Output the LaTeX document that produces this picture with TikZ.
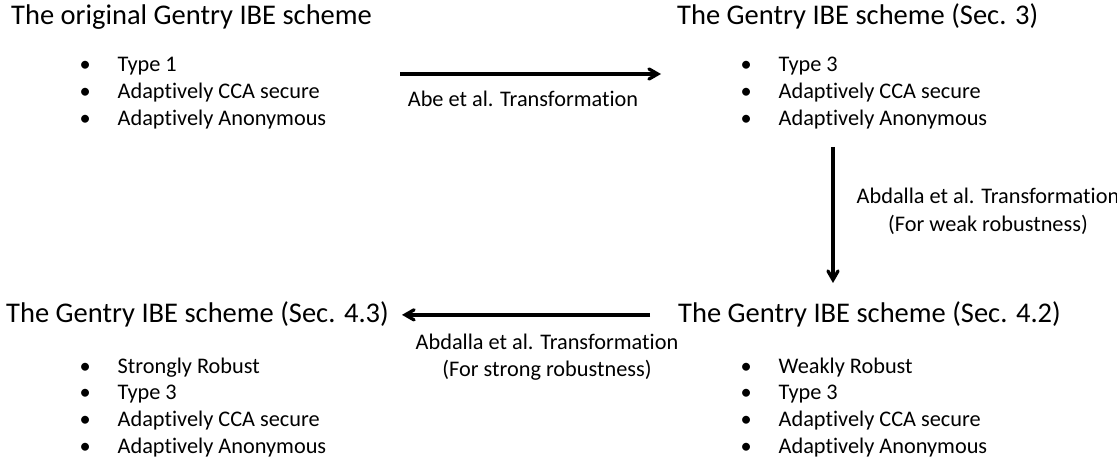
\documentclass[tikz,border=0pt]{standalone}
\usepackage{fontspec}
\setmainfont{Carlito}[Ligatures={NoCommon,NoContextual},Contextuals=NoAlternate]
\usetikzlibrary{arrows}

\begin{document}
\begin{tikzpicture}[x=1pt,y=-1pt]
\tikzstyle{trans} = [-angle 60, line width=3.3pt]
\tikzstyle{scheme} = [inner sep=0pt, font=\fontsize{28.5}{34}\selectfont]
\tikzstyle{props} = [inner sep=0pt, anchor=base west, font=\fontsize{22.3}{26.7}\selectfont]
\tikzstyle{lab} = [inner sep=0pt, align=center, anchor=base, font=\fontsize{22.3}{27.5}\selectfont]
\useasboundingbox (0,0) rectangle (1117,457);
% schemes
\node[scheme, anchor=base west] (s1) at (11,25) {The original Gentry IBE scheme};
\node[scheme, anchor=base west] (s2) at (677,25) {The Gentry IBE scheme (Sec. 3)};
\node[scheme, anchor=base west] (s3) at (678,323) {The Gentry IBE scheme (Sec. 4.2)};
\node[scheme, anchor=base east] (s4) at (389,323) {The Gentry IBE scheme (Sec. 4.3)};
% properties
\node[props] (p1) at (79.5,72) {\begin{tabular}[t]{@{}p{38pt}@{}l@{}}
\textbullet & Type 1\\
\textbullet & Adaptively CCA secure\\
\textbullet & Adaptively Anonymous
\end{tabular}};
\node[props] (p2) at (740.5,72) {\begin{tabular}[t]{@{}p{38pt}@{}l@{}}
\textbullet & Type 3\\
\textbullet & Adaptively CCA secure\\
\textbullet & Adaptively Anonymous
\end{tabular}};
\node[props] (p3) at (740.5,373) {\begin{tabular}[t]{@{}p{38pt}@{}l@{}}
\textbullet & Weakly Robust\\
\textbullet & Type 3\\
\textbullet & Adaptively CCA secure\\
\textbullet & Adaptively Anonymous
\end{tabular}};
\node[props] (p4) at (79.5,373) {\begin{tabular}[t]{@{}p{38pt}@{}l@{}}
\textbullet & Strongly Robust\\
\textbullet & Type 3\\
\textbullet & Adaptively CCA secure\\
\textbullet & Adaptively Anonymous
\end{tabular}};
% transformations
\coordinate (c1) at (400,74);
\coordinate (c2) at (661,74);
\coordinate (c3) at (833,147);
\coordinate (c4) at (833,283);
\draw[trans] (c1) -- (c2);
\draw[trans] (c3) -- (c4);
\draw[trans, shorten <=28pt, shorten >=13pt] (s3) -- (s4);
\node[lab] (t1) at (523,107) {Abe et al. Transformation};
\node[lab] (t2) at (988,231.5) {Abdalla et al. Transformation\\(For weak robustness)};
\node[lab] (t3) at (547,376.5) {Abdalla et al. Transformation\\(For strong robustness)};
\end{tikzpicture}
\end{document}
